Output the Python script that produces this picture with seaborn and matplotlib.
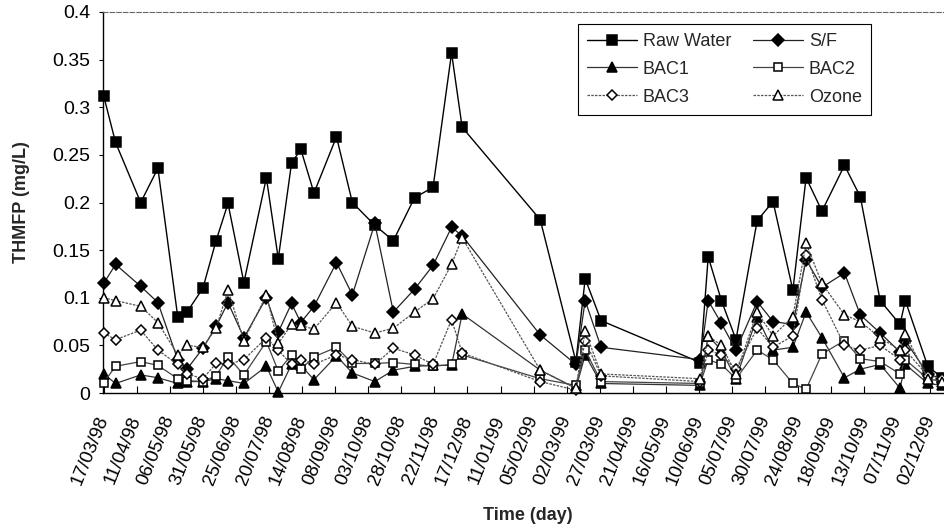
import matplotlib
matplotlib.use("Agg")
import matplotlib.pyplot as plt
import seaborn as sns
import pandas as pd
import numpy as np
from matplotlib.ticker import FuncFormatter

sample_dates = ["17/03/98", "26/03/98", "14/04/98", "27/04/98", "12/05/98", "19/05/98",
                "31/05/98", "10/06/98", "19/06/98", "01/07/98", "18/07/98", "27/07/98",
                "06/08/98", "13/08/98", "23/08/98", "09/09/98", "21/09/98", "08/10/98",
                "22/10/98", "07/11/98", "21/11/98", "05/12/98", "13/12/98", "10/02/99",
                "09/03/99", "16/03/99", "28/03/99", "11/06/99", "17/06/99", "27/06/99",
                "08/07/99", "24/07/99", "05/08/99", "20/08/99", "30/08/99", "11/09/99",
                "28/09/99", "10/10/99", "25/10/99", "09/11/99", "13/11/99", "30/11/99",
                "11/12/99"]

raw_water = [0.312, 0.263, 0.200, 0.236, 0.080, 0.085, 0.110, 0.160, 0.199, 0.116,
             0.226, 0.141, 0.241, 0.256, 0.210, 0.269, 0.200, 0.176, 0.160, 0.205,
             0.216, 0.357, 0.279, 0.182, 0.033, 0.120, 0.076, 0.032, 0.143, 0.097,
             0.056, 0.181, 0.201, 0.108, 0.226, 0.191, 0.239, 0.206, 0.097, 0.072,
             0.097, 0.028, 0.016]
sf = [0.115, 0.135, 0.112, 0.095, 0.035, 0.025, 0.047, 0.070, 0.095, 0.058,
      0.100, 0.064, 0.094, 0.074, 0.091, 0.137, 0.103, 0.178, 0.085, 0.109,
      0.134, 0.174, 0.165, 0.061, 0.030, 0.097, 0.048, 0.035, 0.097, 0.073,
      0.045, 0.096, 0.075, 0.072, 0.140, 0.111, 0.126, 0.082, 0.063, 0.043,
      0.055, 0.020, 0.015]
bac1 = [0.020, 0.010, 0.019, 0.016, 0.010, 0.012, 0.012, 0.015, 0.013, 0.010,
        0.028, 0.001, 0.030, 0.029, 0.014, 0.039, 0.021, 0.012, 0.024, 0.028,
        0.029, 0.029, 0.083, 0.024, 0.005, 0.040, 0.010, 0.008, 0.060, 0.045,
        0.015, 0.080, 0.045, 0.048, 0.085, 0.058, 0.016, 0.025, 0.030, 0.005,
        0.030, 0.010, 0.008]
bac2 = [0.011, 0.028, 0.033, 0.029, 0.015, 0.013, 0.012, 0.018, 0.038, 0.019,
        0.054, 0.023, 0.040, 0.025, 0.038, 0.048, 0.031, 0.031, 0.032, 0.030,
        0.028, 0.030, 0.040, 0.015, 0.008, 0.045, 0.012, 0.010, 0.035, 0.030,
        0.015, 0.045, 0.035, 0.010, 0.004, 0.041, 0.055, 0.036, 0.033, 0.020,
        0.035, 0.015, 0.012]
bac3 = [0.063, 0.056, 0.066, 0.045, 0.030, 0.020, 0.015, 0.031, 0.030, 0.035,
        0.058, 0.045, 0.030, 0.035, 0.030, 0.040, 0.035, 0.030, 0.047, 0.040,
        0.030, 0.077, 0.042, 0.012, 0.003, 0.055, 0.018, 0.012, 0.045, 0.040,
        0.025, 0.068, 0.048, 0.060, 0.145, 0.098, 0.050, 0.045, 0.050, 0.035,
        0.045, 0.018, 0.015]
ozone = [0.100, 0.097, 0.091, 0.074, 0.040, 0.050, 0.048, 0.068, 0.108, 0.055,
         0.103, 0.052, 0.072, 0.071, 0.067, 0.095, 0.070, 0.063, 0.068, 0.085,
         0.099, 0.135, 0.163, 0.024, 0.005, 0.065, 0.020, 0.015, 0.060, 0.050,
         0.020, 0.085, 0.060, 0.080, 0.157, 0.115, 0.082, 0.075, 0.058, 0.045,
         0.062, 0.015, 0.012]

tick_labels = ["17/03/98", "11/04/98", "06/05/98", "31/05/98", "25/06/98", "20/07/98",
               "14/08/98", "08/09/98", "03/10/98", "28/10/98", "22/11/98", "17/12/98",
               "11/01/99", "05/02/99", "02/03/99", "27/03/99", "21/04/99", "16/05/99",
               "10/06/99", "05/07/99", "30/07/99", "24/08/99", "18/09/99", "13/10/99",
               "07/11/99", "02/12/99"]
y_ticks = [0, 0.05, 0.1, 0.15, 0.2, 0.25, 0.3, 0.35, 0.4]

sns.set_theme(style="white")
plt.rcParams["font.family"] = ["Liberation Sans", "DejaVu Sans"]

df = pd.DataFrame({
    "date": pd.to_datetime(sample_dates, format="%d/%m/%y"),
    "Raw Water": raw_water, "S/F": sf, "BAC1": bac1,
    "BAC2": bac2, "BAC3": bac3, "Ozone": ozone,
})

fig = plt.figure(figsize=(9.45, 5.32), dpi=100)
ax = fig.add_axes([103 / 945, 1 - 393 / 532, (945 - 103) / 945, (393 - 12) / 532])

styles = {
    "Raw Water": dict(marker="s", ms=7.5, mfc="black", color="black", lw=1.0, ls="-"),
    "S/F":       dict(marker="D", ms=6.0, mfc="black", color="#222222", lw=0.9, ls="-"),
    "BAC1":      dict(marker="^", ms=7.0, mfc="black", color="#333333", lw=0.9, ls="-"),
    "BAC2":      dict(marker="s", ms=6.0, mfc="white", color="#444444", lw=0.9, ls="-"),
    "BAC3":      dict(marker="D", ms=5.5, mfc="white", color="#555555", lw=0.9, ls=(0, (2, 1))),
    "Ozone":     dict(marker="^", ms=7.0, mfc="white", color="#555555", lw=0.9, ls=(0, (2, 1))),
}

handles = {}
for name, st in styles.items():
    sns.lineplot(data=df, x="date", y=name, ax=ax, errorbar=None, label=name,
                 marker=st["marker"], markersize=st["ms"], markerfacecolor=st["mfc"],
                 markeredgecolor="black", markeredgewidth=1.1, color=st["color"],
                 linewidth=st["lw"], linestyle=st["ls"], clip_on=False, zorder=3)
    handles[name] = ax.get_lines()[-1]

start = pd.Timestamp("1998-03-17")
ax.set_xlim(start - pd.Timedelta(days=0.5), start + pd.Timedelta(days=636))
ax.set_ylim(0, 0.4)

tick_pos = pd.to_datetime(tick_labels, format="%d/%m/%y")
ax.set_xticks(tick_pos)
ax.set_xticklabels(tick_labels, rotation=68, ha="right", va="center",
                   rotation_mode="anchor", fontsize=13.5)
ax.set_yticks(y_ticks)
ax.yaxis.set_major_formatter(FuncFormatter(lambda v, p: f"{v:g}"))
ax.tick_params(axis="y", labelsize=14, direction="out", length=3, width=0.8,
               left=True, colors="black", pad=6)
ax.tick_params(axis="x", direction="in", length=5, width=0.8, bottom=True,
               colors="black", pad=17)

for s in ["left", "bottom"]:
    ax.spines[s].set_color("black")
    ax.spines[s].set_linewidth(1.0)
ax.spines["top"].set_color("#666666")
ax.spines["top"].set_linewidth(0.8)
ax.spines["top"].set_linestyle((0, (4, 2)))
ax.spines["right"].set_visible(False)

ax.set_xlabel("Time (day)", fontsize=13, fontweight="bold")
ax.set_ylabel("THMFP (mg/L)", fontsize=13, fontweight="bold")
ax.xaxis.set_label_coords(0.505, -0.298)
ax.yaxis.set_label_coords(-0.087, 0.5)

order = ["Raw Water", "BAC1", "BAC3", "S/F", "BAC2", "Ozone"]
leg = ax.legend([handles[n] for n in order], order, ncol=2, loc="upper left",
                bbox_to_anchor=(0.564, 0.969), borderaxespad=0, fontsize=13,
                frameon=True, fancybox=False, framealpha=1, edgecolor="black",
                handlelength=2.8, columnspacing=1.2, labelspacing=0.6,
                handletextpad=0.3, borderpad=0.5)
leg.get_frame().set_linewidth(0.8)

fig.savefig("out.png", dpi=100)
